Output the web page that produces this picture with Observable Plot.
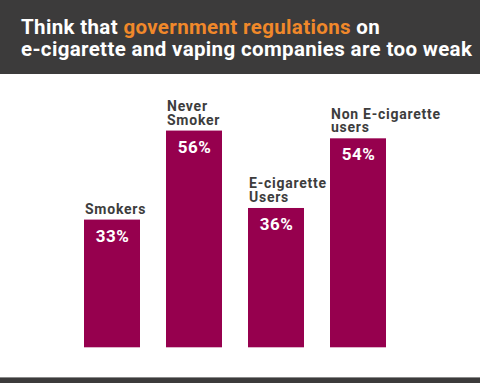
<!DOCTYPE html>
<html>
<head>
<meta charset="utf-8">
<script src="https://cdn.jsdelivr.net/npm/d3@7"></script>
<script src="https://cdn.jsdelivr.net/npm/@observablehq/plot@0.6"></script>
<style>
  html, body { margin: 0; padding: 0; background: #fff; }
  #wrap { position: relative; width: 480px; height: 383px; overflow: hidden; background: #fff; }
  #header { position: absolute; left: 0; top: 0; width: 480px; height: 74px; background: #3c3b3b; box-sizing: border-box;
    padding: 16px 0 0 21px; font-family: Roboto, sans-serif; font-weight: 700; font-size: 20.5px; line-height: 22.3px; color: #fff; letter-spacing: 0.35px; white-space: nowrap; }
  #header .hl { color: #f0882a; }
  #chart { position: absolute; left: 0; top: 74px; }
  #footer { position: absolute; left: 0; top: 377px; width: 480px; height: 6px; background: #3c3b3b; border-top: 1px solid #8a8a8a; box-sizing: border-box; }
</style>
</head>
<body>
<div id="wrap">
  <div id="header"></div>
  <div id="chart"></div>
  <div id="footer"></div>
</div>
<script>
const titleStart = "Think that ";
const titleHighlight = "government regulations";
const titleEnd = " on";
const titleLine2 = "e-cigarette and vaping companies are too weak";

const categories = ["Smokers", "Never\nSmoker", "E-cigarette\nUsers", "Non E-cigarette\nusers"];
const values = [33, 56, 36, 54];
const valueLabels = ["33%", "56%", "36%", "54%"];

const header = document.getElementById("header");
header.innerHTML = "";
header.append(titleStart);
const hl = document.createElement("span");
hl.className = "hl";
hl.textContent = titleHighlight;
header.append(hl, titleEnd, document.createElement("br"), titleLine2);

const data = categories.map((c, i) => ({category: c, value: values[i], label: valueLabels[i]}));

const barColor = "#96004e";
const bottom = 273.3;
const pxPerUnit = 3.87;

const chart = Plot.plot({
  width: 480,
  height: 303,
  marginTop: 0, marginRight: 0, marginBottom: 0, marginLeft: 0,
  style: {fontFamily: "Roboto, sans-serif", background: "transparent", overflow: "visible"},
  x: {domain: categories, range: [82, 388], paddingInner: 0.313, paddingOuter: 0, axis: null},
  y: {domain: [0, 70], range: [bottom, bottom - 70 * pxPerUnit], axis: null},
  marks: [
    Plot.barY(data, {x: "category", y: "value", fill: barColor}),
    Plot.text(data, {x: "category", y: "value", text: "category", textAnchor: "start", lineAnchor: "bottom",
      dx: -27.5, dy: -6.5, fontSize: 14, fontWeight: 700, lineHeight: 0.98, fill: "#3d3d3d"}),
    Plot.text(data, {x: "category", y: "value", text: "label", textAnchor: "middle", lineAnchor: "bottom",
      dy: 21.5, fontSize: 17, fontWeight: 700, fill: "#ffffff"})
  ]
});
document.getElementById("chart").append(chart);
const textGroups = chart.querySelectorAll('g[aria-label="text"]');
if (textGroups[0]) textGroups[0].style.letterSpacing = "0.75px";
if (textGroups[1]) textGroups[1].style.letterSpacing = "0.4px";
</script>
</body>
</html>
